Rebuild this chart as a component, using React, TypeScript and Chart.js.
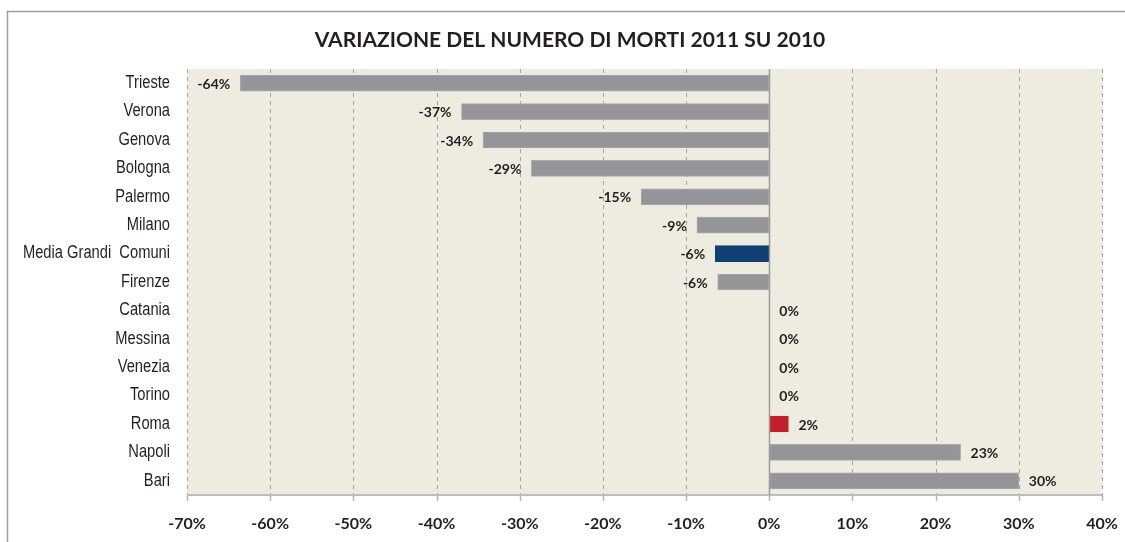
import React, { useEffect, useRef } from "react";
import { Chart, registerables } from "chart.js";

Chart.register(...registerables);

const TITLE = "VARIAZIONE DEL NUMERO DI MORTI 2011 SU 2010";
const categories = [
  "Trieste", "Verona", "Genova", "Bologna", "Palermo", "Milano", "Media Grandi  Comuni",
  "Firenze", "Catania", "Messina", "Venezia", "Torino", "Roma", "Napoli", "Bari",
];
const values = [-63.6, -37, -34.4, -28.6, -15.4, -8.7, -6.5, -6.2, 0, 0, 0, 0, 2.3, 23, 30];
const barColors = [
  "#939598", "#939598", "#939598", "#939598", "#939598", "#939598", "#0F3F73",
  "#939598", "#939598", "#939598", "#939598", "#939598", "#C1202A", "#939598", "#939598",
];
const xMin = -70;
const xMax = 40;
const xStep = 10;

const decorPlugin = {
  id: "decor",
  beforeDraw(chart: any) {
    const { ctx, chartArea: a, width, height } = chart;
    ctx.save();
    ctx.fillStyle = "#ffffff";
    ctx.fillRect(0, 0, width, height);
    // frame
    ctx.strokeStyle = "#9d9d9d";
    ctx.lineWidth = 1.5;
    ctx.beginPath();
    ctx.moveTo(7.5, height);
    ctx.lineTo(7.5, 11.5);
    ctx.lineTo(width, 11.5);
    ctx.stroke();
    // plot background
    ctx.fillStyle = "#EEEBE0";
    ctx.fillRect(a.left, a.top, a.right - a.left, a.bottom - a.top);
    // grid
    const xs = chart.scales.x;
    ctx.lineWidth = 1;
    for (const t of xs.ticks) {
      const px = Math.round(xs.getPixelForValue(t.value)) + 0.5;
      if (t.value === 0) continue;
      ctx.strokeStyle = "#a3a3a3";
      ctx.setLineDash([4, 4]);
      ctx.beginPath();
      ctx.moveTo(px, a.top);
      ctx.lineTo(px, a.bottom);
      ctx.stroke();
    }
    ctx.setLineDash([]);
    // tick marks
    ctx.strokeStyle = "#b5b5b5";
    ctx.lineWidth = 1.5;
    for (const t of xs.ticks) {
      const px = Math.round(xs.getPixelForValue(t.value)) + 0.5;
      ctx.beginPath();
      ctx.moveTo(px, a.bottom);
      ctx.lineTo(px, a.bottom + 6);
      ctx.stroke();
    }
    // axis line
    ctx.strokeStyle = "#bdbdbd";
    ctx.lineWidth = 2;
    ctx.beginPath();
    ctx.moveTo(a.left, a.bottom);
    ctx.lineTo(a.right, a.bottom);
    ctx.stroke();
    // title
    ctx.fillStyle = "#231f20";
    ctx.font = "bold 21px Lato";
    ctx.textAlign = "center";
    ctx.textBaseline = "middle";
    ctx.fillText(TITLE, 570, 40);
    // category labels (condensed like Arial Narrow)
    const ys = chart.scales.y;
    ctx.font = "17.5px 'Liberation Sans', Arial, sans-serif";
    ctx.textAlign = "right";
    ctx.fillStyle = "#231f20";
    categories.forEach((c, i) => {
      const py = ys.getPixelForValue(i);
      ctx.save();
      ctx.translate(170, py);
      ctx.scale(0.84, 1);
      ctx.fillText(c, 0, 0);
      ctx.restore();
    });
    ctx.restore();
  },
  afterDatasetsDraw(chart: any) {
    const { ctx, chartArea: a } = chart;
    const xs = chart.scales.x;
    const zx = Math.round(xs.getPixelForValue(0)) + 0.5;
    ctx.save();
    ctx.strokeStyle = "#9a9a9a";
    ctx.lineWidth = 1.5;
    ctx.beginPath();
    ctx.moveTo(zx, a.top);
    ctx.lineTo(zx, a.bottom);
    ctx.stroke();
    const meta = chart.getDatasetMeta(0);
    ctx.fillStyle = "#231f20";
    ctx.font = "bold 14px Lato";
    ctx.textBaseline = "middle";
    meta.data.forEach((bar: any, i: number) => {
      const v = values[i];
      const label = Math.round(v) + "%";
      if (v < 0) {
        ctx.textAlign = "right";
        ctx.fillText(label, bar.x - 10, bar.y + 1);
      } else {
        ctx.textAlign = "left";
        ctx.fillText(label, bar.x + 10, bar.y + 1);
      }
    });
    ctx.restore();
  },
};

export default function App() {
  const ref = useRef<HTMLCanvasElement | null>(null);
  useEffect(() => {
    if (!ref.current) return;
    const chart = new Chart(ref.current, {
      type: "bar",
      data: {
        labels: categories,
        datasets: [
          {
            data: values,
            backgroundColor: barColors,
            borderColor: barColors.map((c) => (c === "#939598" ? "#a9aaac" : c)),
            borderWidth: 1,
            borderSkipped: false,
            barThickness: 16,
          },
        ],
      },
      options: {
        indexAxis: "y",
        animation: false,
        responsive: false,
        maintainAspectRatio: false,
        layout: { padding: { top: 69, left: 0, right: 23, bottom: 0 } },
        plugins: { legend: { display: false }, tooltip: { enabled: false }, title: { display: false } },
        scales: {
          x: {
            type: "linear",
            min: xMin,
            max: xMax,
            ticks: {
              stepSize: xStep,
              callback: (v: any) => v + "%",
              color: "#231f20",
              font: { family: "Lato", weight: "bold", size: 16 },
              padding: 13,
            },
            grid: { display: true, color: "rgba(0,0,0,0)", drawTicks: true, tickLength: 6 },
            border: { display: false },
            afterFit: (s: any) => {
              s.height = 47;
              s.paddingLeft = 0;
              s.paddingRight = 0;
            },
          },
          y: {
            ticks: { display: false },
            grid: { display: false, drawTicks: false },
            border: { display: false },
            afterFit: (s: any) => {
              s.width = 187;
              s.paddingTop = 0;
              s.paddingBottom = 0;
            },
          },
        },
      },
      plugins: [decorPlugin],
    } as any);
    return () => chart.destroy();
  }, []);
  return (
    <div style={{ position: "fixed", left: 0, top: 0, width: 1125, height: 542, background: "#fff" }}>
      <canvas ref={ref} width={1125} height={542} style={{ width: 1125, height: 542 }} />
    </div>
  );
}
